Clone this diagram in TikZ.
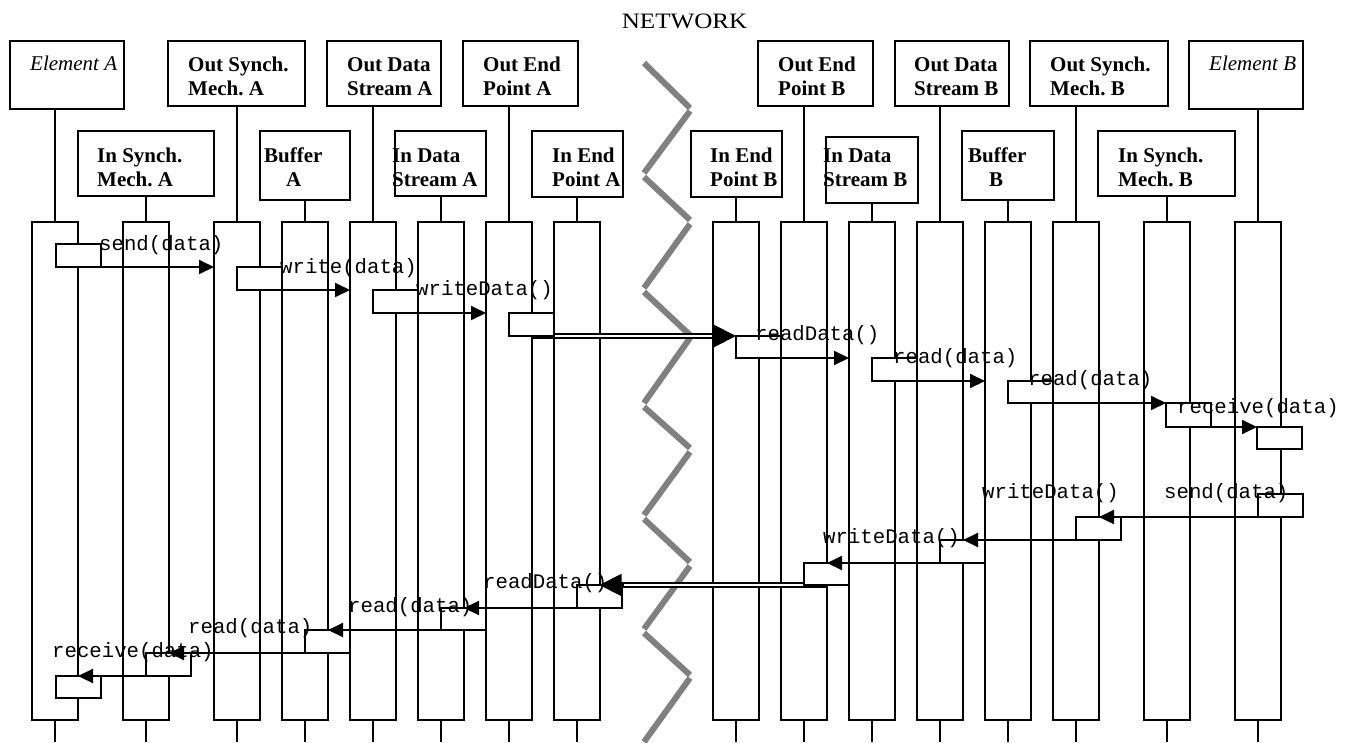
\documentclass[tikz,border=0pt]{standalone}
\usepackage{fontspec}
\setmainfont{Liberation Serif}
\setmonofont{Liberation Mono}
\usetikzlibrary{arrows.meta,calc}
\begin{document}
\begin{tikzpicture}[x=1pt,y=-1pt,
  hbox/.style={draw,line width=2.6pt,inner sep=0pt,outer sep=0pt,anchor=north west},
  hthin/.style={hbox,line width=1.8pt},
  htext/.style={anchor=base west,inner sep=0pt,font=\fontsize{21}{24}\selectfont\bfseries},
  itext/.style={anchor=base west,inner sep=0pt,font=\fontsize{21}{24}\selectfont\itshape},
  life/.style={draw,line width=1.9pt,minimum width=46pt,minimum height=498pt,inner sep=0pt,outer sep=0pt},
  lline/.style={line width=1.9pt},
  sbox/.style={draw,fill=white,line width=2pt,minimum width=45pt,minimum height=23pt,inner sep=0pt,outer sep=0pt,anchor=north west},
  msg/.style={line width=2pt,-{Triangle[length=15pt,width=14pt]}},
  dbl/.style={double,double distance=2.6pt,line width=1.8pt,shorten >=14pt},
  bigtip/.style={line width=2pt,-{Triangle[length=22pt,width=22pt]}},
  mlabel/.style={anchor=base west,inner sep=0pt,font=\fontsize{20.7}{24}\ttfamily},
  zig/.style={line width=6pt,draw=black!50}
]
\useasboundingbox (0,0) rectangle (1354,742);
\coordinate (bot) at (0,742);

% network title
\node[anchor=base,inner sep=0pt,font=\fontsize{22}{26}\selectfont] (net) at (684.5,28) {\scalebox{1.14}[1]{NETWORK}};

% zigzag
\draw[zig] (644,63) -- (690,108);
\draw[zig] (690,111) -- (644,173);
\draw[zig] (644,177) -- (690,220);
\draw[zig] (690,224) -- (644,288);
\draw[zig] (644,292) -- (690,335);
\draw[zig] (690,338) -- (644,403);
\draw[zig] (644,407) -- (690,448);
\draw[zig] (690,452) -- (644,515);
\draw[zig] (644,519) -- (690,562);
\draw[zig] (690,566) -- (644,629);
\draw[zig] (644,633) -- (690,675);
\draw[zig] (690,678) -- (644,742);

% header boxes
\node[hthin,minimum width=114pt,minimum height=68pt] (H1) at (10,41) {};
\node[hbox,minimum width=136pt,minimum height=65pt] (H2) at (78,131) {};
\node[hbox,minimum width=137pt,minimum height=65pt] (H3) at (168,41) {};
\node[hthin,minimum width=90pt,minimum height=69pt] (H4) at (260,131) {};
\node[hbox,minimum width=114pt,minimum height=65pt] (H5) at (327,41) {};
\node[hbox,line width=2.2pt,minimum width=91pt,minimum height=65pt] (H6) at (395,131) {};
\node[hbox,minimum width=115pt,minimum height=65pt] (H7) at (463,41) {};
\node[hbox,minimum width=91pt,minimum height=66pt] (H8) at (532,131) {};
\node[hbox,minimum width=91pt,minimum height=66pt] (H9) at (691,131) {};
\node[hbox,minimum width=115pt,minimum height=65pt] (H10) at (758,41) {};
\node[hbox,minimum width=92pt,minimum height=66pt] (H11) at (826,137) {};
\node[hbox,minimum width=114pt,minimum height=65pt] (H12) at (895,41) {};
\node[hthin,minimum width=92pt,minimum height=69pt] (H13) at (962,131) {};
\node[hbox,minimum width=138pt,minimum height=65pt] (H14) at (1030,41) {};
\node[hbox,minimum width=137pt,minimum height=65pt] (H15) at (1098,131) {};
\node[hthin,minimum width=114pt,minimum height=68pt] (H16) at (1189,41) {};

% header texts
\node[itext] (T1) at (30,70) {Element A};
\node[htext] (T2) at (97,162) {\begin{tabular}[t]{@{}l@{}}In Synch.\\Mech.\ A\end{tabular}};
\node[htext] (T3) at (188,71) {\begin{tabular}[t]{@{}l@{}}Out Synch.\\Mech.\ A\end{tabular}};
\node[htext] (T4) at (264,162) {\begin{tabular}[t]{@{}l@{}}Buffer\\\hspace{22pt}A\end{tabular}};
\node[htext] (T5) at (347,71) {\begin{tabular}[t]{@{}l@{}}Out Data\\Stream A\end{tabular}};
\node[htext] (T6) at (392,162) {\begin{tabular}[t]{@{}l@{}}In Data\\Stream A\end{tabular}};
\node[htext] (T7) at (483,71) {\begin{tabular}[t]{@{}l@{}}Out End\\Point A\end{tabular}};
\node[htext] (T8) at (552,162) {\begin{tabular}[t]{@{}l@{}}In End\\Point A\end{tabular}};
\node[htext] (T9) at (710,162) {\begin{tabular}[t]{@{}l@{}}In End\\Point B\end{tabular}};
\node[htext] (T10) at (778,71) {\begin{tabular}[t]{@{}l@{}}Out End\\Point B\end{tabular}};
\node[htext] (T11) at (823,162) {\begin{tabular}[t]{@{}l@{}}In Data\\Stream B\end{tabular}};
\node[htext] (T12) at (914,71) {\begin{tabular}[t]{@{}l@{}}Out Data\\Stream B\end{tabular}};
\node[htext] (T13) at (968,162) {\begin{tabular}[t]{@{}l@{}}Buffer\\\hspace{21pt}B\end{tabular}};
\node[htext] (T14) at (1050,71) {\begin{tabular}[t]{@{}l@{}}Out Synch.\\Mech.\ B\end{tabular}};
\node[htext] (T15) at (1118,162) {\begin{tabular}[t]{@{}l@{}}In Synch.\\Mech.\ B\end{tabular}};
\node[itext] (T16) at (1209,70) {Element B};

% lifelines
\foreach \i/\x in {1/55,2/146,3/237,4/305,5/373,6/441,7/509,8/577,9/736,10/804,11/872,12/940,13/1008,14/1076,15/1167,16/1258}{
  \node[life] (L\i) at (\x,471) {};
  \draw[lline] (L\i.north) -- (L\i.north |- H\i.south);
  \draw[lline] (L\i.south) -- (L\i.south |- bot);
}

% double (network) lines, under the small boxes
\draw[dbl] (L7.east |- 0,336) coordinate (d1s) -- (736,336) coordinate (d1e);
\draw[dbl] (L10.east |- 0,585) coordinate (d2s) -- (600,585) coordinate (d2e);

% activation boxes: forward
\node[sbox] (A1) at (56,244) {};
\node[sbox] (A2) at (237,267) {};
\node[sbox] (A3) at (373,290) {};
\node[sbox] (A4) at (509,313) {};
\node[sbox,minimum height=22pt] (A5) at (736,336) {};
\node[sbox] (A6) at (872,358) {};
\node[sbox,minimum height=22pt] (A7) at (1008,381) {};
\node[sbox,minimum height=24pt] (A8) at (1166,403) {};
\node[sbox,minimum height=22pt] (A9) at (1257,427) {};
% activation boxes: return
\node[sbox] (B1) at (1258,494) {};
\node[sbox] (B2) at (1076,517) {};
\node[sbox] (B3) at (940,540) {};
\node[sbox,minimum height=22pt] (B4) at (804,563) {};
\node[sbox] (B5) at (577,585) {};
\node[sbox,minimum height=22pt] (B6) at (441,608) {};
\node[sbox] (B7) at (305,630) {};
\node[sbox] (B8) at (146,653) {};
\node[sbox,minimum height=22pt] (B9) at (56,676) {};

% forward messages
\draw[msg] (A1.south east) -- (A1.south east -| L3.west);
\draw[msg] (A2.south east) -- (A2.south east -| L5.west);
\draw[msg] (A3.south east) -- (A3.south east -| L7.west);
\draw[bigtip] ($(A5.north west)+(-24,0)$) -- (A5.north west);
\draw[msg] (A5.south east) -- (A5.south east -| L11.west);
\draw[msg] (A6.south east) -- (A6.south east -| L13.west);
\draw[msg] (A7.south east) -- (A8.north west);
\draw[msg] (A8.south east) -- (A9.north west);
% return messages
\draw[msg] (B1.south west) -- (B1.south west -| L14.east);
\draw[msg] (B2.south west) -- (B2.south west -| L12.east);
\draw[msg] (B3.south west) -- (B3.south west -| L10.east);
\draw[bigtip] ($(B5.north)+(24,0)$) -- (B5.north);
\draw[msg] (B5.south west) -- (B5.south west -| L6.east);
\draw[msg] (B6.south west) -- (B6.south west -| L4.east);
\draw[msg] (B7.south west) -- (B7.south west -| L2.east);
\draw[msg] (B8.south west) -- (B8.south west -| L1.east);

% message labels
\node[mlabel] (M1) at (99,250) {send(data)};
\node[mlabel] (M2) at (280,273) {write(data)};
\node[mlabel] (M3) at (416,295) {writeData()};
\node[mlabel] (M4) at (755,340) {readData()};
\node[mlabel] (M5) at (893,363) {read(data)};
\node[mlabel] (M6) at (1028,385) {read(data)};
\node[mlabel] (M7) at (1177,413) {receive(data)};
\node[mlabel] (M8) at (982,498) {writeData()};
\node[mlabel] (M9) at (1164,498) {send(data)};
\node[mlabel] (M10) at (823,543) {writeData()};
\node[mlabel] (M11) at (483,588) {readData()};
\node[mlabel] (M12) at (348,612) {read(data)};
\node[mlabel] (M13) at (188,633) {read(data)};
\node[mlabel] (M14) at (52,657) {receive(data)};
\end{tikzpicture}
\end{document}
